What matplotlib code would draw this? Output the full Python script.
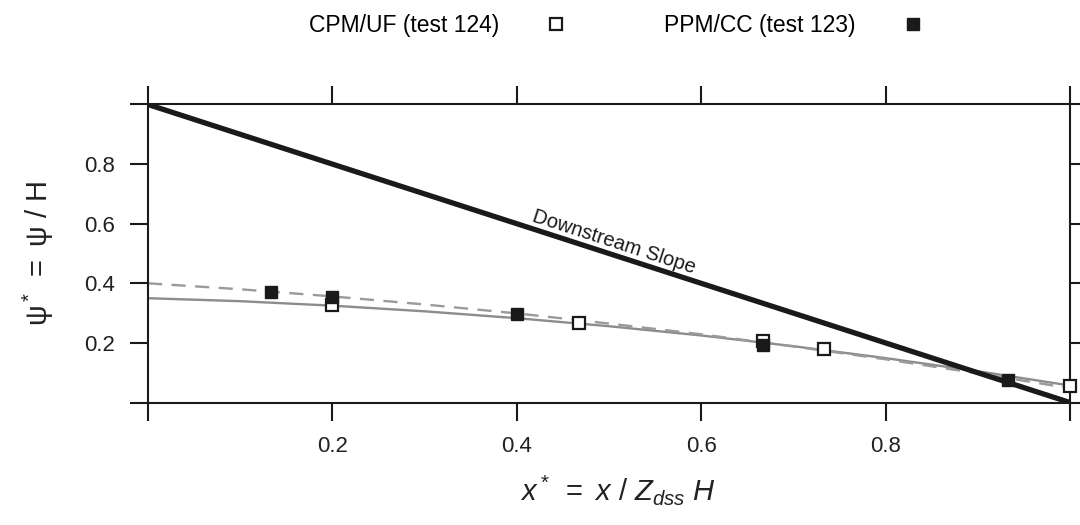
import numpy as np
import matplotlib
matplotlib.use('Agg')
import matplotlib.pyplot as plt
from matplotlib.lines import Line2D

plt.rcParams['font.family'] = ['Liberation Sans', 'DejaVu Sans']
plt.rcParams['mathtext.fontset'] = 'custom'
plt.rcParams['mathtext.rm'] = 'Liberation Sans'
plt.rcParams['mathtext.it'] = 'Liberation Sans:italic'

# measured points
cpm_x = [0.2, 0.467, 0.667, 0.733, 1.0]
cpm_y = [0.327, 0.267, 0.207, 0.180, 0.055]
ppm_x = [0.133, 0.2, 0.4, 0.667, 0.933]
ppm_y = [0.372, 0.355, 0.298, 0.194, 0.076]

# fitted curves (solid: CPM/UF, dashed: PPM/CC)
fit_x = [0.0, 0.1, 0.2, 0.3, 0.4, 0.5, 0.6, 0.7, 0.8, 0.9, 1.0]
fit_cpm = [0.350, 0.340, 0.325, 0.306, 0.283, 0.256, 0.225, 0.189, 0.149, 0.105, 0.057]
fit_ppm = [0.400, 0.380, 0.356, 0.329, 0.299, 0.265, 0.229, 0.188, 0.145, 0.098, 0.048]

# downstream slope of the dam
slope_x = [0.0, 1.0]
slope_y = [1.0, 0.0]

ticks = [0.0, 0.2, 0.4, 0.6, 0.8, 1.0]
tick_labels = ['', '0.2', '0.4', '0.6', '0.8', '']

fig = plt.figure(figsize=(10.8, 5.25), dpi=100)
ax = fig.add_axes([0.137, 0.2333, 0.8537, 0.5677])

ax.plot(slope_x, slope_y, color='#1a1a1a', lw=3.8, solid_capstyle='butt', zorder=3)
ax.plot(fit_x, fit_cpm, color='#8c8c8c', lw=1.7, zorder=2)
ax.plot(fit_x, fit_ppm, color='#9a9a9a', lw=1.7, ls=(0, (6, 4)), zorder=2)
ax.plot(cpm_x, cpm_y, ls='none', marker='s', ms=8.5, mfc='white', mec='#1a1a1a',
        mew=1.6, zorder=4, clip_on=False)
ax.plot(ppm_x, ppm_y, ls='none', marker='s', ms=8, mfc='#1a1a1a', mec='#1a1a1a',
        zorder=5, clip_on=False)

ax.set_xlim(0, 1)
ax.set_ylim(0, 1)

# label along the slope line
fig.canvas.draw()
p0 = ax.transData.transform((0, 1))
p1 = ax.transData.transform((1, 0))
ang = np.degrees(np.arctan2(p1[1] - p0[1], p1[0] - p0[0]))
ax.text(0.502, 0.509, 'Downstream Slope', rotation=ang, rotation_mode='anchor',
        ha='center', va='bottom', fontsize=14.5, color='#1a1a1a')

for s in ax.spines.values():
    s.set_linewidth(1.5)
    s.set_color('#1a1a1a')
ax.set_xticks(ticks)
ax.set_xticklabels(tick_labels)
ax.set_yticks(ticks)
ax.set_yticklabels(tick_labels)
ax.tick_params(direction='out', length=13, width=1.5, color='#1a1a1a',
               labelsize=16, labelcolor='#222222', pad=11,
               top=True, right=True)

ax.set_xlabel(r'$x^*\ =\ x\ /\ Z_{dss}\ H$', fontsize=21, labelpad=10, color='#222222')
ax.xaxis.set_label_coords(0.51, -0.235)
ax.set_ylabel(r'$\mathrm{\psi^*\ =\ \psi\ /\ H}$', fontsize=21, labelpad=20, color='#222222')

handles = [
    Line2D([], [], ls='none', marker='s', ms=8.5, mfc='white', mec='#1a1a1a', mew=1.6),
    Line2D([], [], ls='none', marker='s', ms=8, mfc='#1a1a1a', mec='#1a1a1a'),
]
fig.legend(handles, ['CPM/UF (test 124)', 'PPM/CC (test 123)'], loc='upper center',
           bbox_to_anchor=(0.571, 1.012), ncol=2, frameon=False, markerfirst=False,
           fontsize=16.5, handlelength=1.0, handletextpad=2.0, columnspacing=4.2)

fig.savefig('out.png', dpi=100)
